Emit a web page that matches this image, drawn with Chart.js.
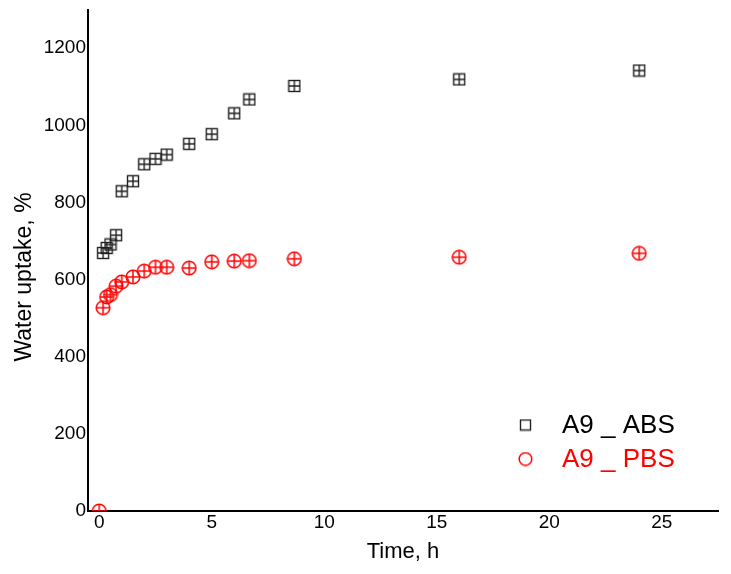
<!DOCTYPE html>
<html>
<head>
<meta charset="utf-8">
<script src="https://cdn.jsdelivr.net/npm/chart.js@4.4.0/dist/chart.umd.min.js"></script>
<style>
html,body{margin:0;padding:0;background:#fff;}
#wrap{position:relative;width:731px;height:574px;}
</style>
</head>
<body>
<div id="wrap"><canvas id="c" width="731" height="574"></canvas></div>
<script>
// Data
const absTime = [0.17, 0.33, 0.5, 0.75, 1, 1.5, 2, 2.5, 3, 4, 5, 6, 6.67, 8.67, 16, 24];
const absUptake = [669, 682, 691, 715, 829, 855, 899, 913, 924, 952, 977, 1031, 1067, 1102, 1119, 1142];
const pbsTime = [0, 0.17, 0.33, 0.5, 0.75, 1, 1.5, 2, 2.5, 3, 4, 5, 6, 6.67, 8.67, 16, 24];
const pbsUptake = [0, 527, 555, 561, 583, 594, 607, 622, 632, 632, 630, 646, 648, 649, 654, 658, 668];
const seriesLabels = ['A9 _ ABS', 'A9 _ PBS'];
const xTicks = [0, 5, 10, 15, 20, 25];
const yTicks = [0, 200, 400, 600, 800, 1000, 1200];
const xTitle = 'Time, h';
const yTitle = 'Water uptake, %';

function pairs(xs, ys){ return xs.map((x,i)=>({x:x, y:ys[i]})); }

function makeSquare(size, plus){
  const c = document.createElement('canvas');
  c.width = size; c.height = size;
  const g = c.getContext('2d');
  g.strokeStyle = '#222'; g.lineWidth = 1.4;
  g.strokeRect(1.5, 1.5, size-3, size-3);
  if (plus){
    g.beginPath();
    g.moveTo(size/2, 1.5); g.lineTo(size/2, size-1.5);
    g.moveTo(1.5, size/2); g.lineTo(size-1.5, size/2);
    g.stroke();
  }
  return c;
}
function makeCircle(size, plus){
  const c = document.createElement('canvas');
  c.width = size; c.height = size;
  const g = c.getContext('2d');
  g.strokeStyle = '#ff0000'; g.lineWidth = 1.5;
  const r = size/2 - 1.2;
  g.beginPath(); g.arc(size/2, size/2, r, 0, Math.PI*2); g.stroke();
  if (plus){
    g.beginPath();
    g.moveTo(size/2, size/2 - r); g.lineTo(size/2, size/2 + r);
    g.moveTo(size/2 - r, size/2); g.lineTo(size/2 + r, size/2);
    g.stroke();
  }
  return c;
}
const sqMarker = makeSquare(14, true);
const ciMarker = makeCircle(16, true);
const FAM = '"Liberation Sans", Arial, sans-serif';

const overlayPlugin = {
  id: 'overlay',
  afterDraw(chart){
    const ctx = chart.ctx;
    const items = [
      {label: seriesLabels[0], color: '#000', img: makeSquare(13, false), y: 425},
      {label: seriesLabels[1], color: '#ff0000', img: makeCircle(15, false), y: 459}
    ];
    ctx.save();
    ctx.font = '26px ' + FAM;
    ctx.textBaseline = 'middle';
    ctx.textAlign = 'left';
    items.forEach(it=>{
      ctx.drawImage(it.img, 525.5 - it.img.width/2, it.y - it.img.height/2);
      ctx.fillStyle = it.color;
      ctx.fillText(it.label, 562, it.y + 1);
    });
    // y-axis title
    ctx.translate(25, 277);
    ctx.rotate(-Math.PI/2);
    ctx.font = '23px ' + FAM;
    ctx.fillStyle = '#000';
    ctx.textAlign = 'center';
    ctx.fillText(yTitle, 0, 0);
    ctx.restore();
  }
};

const font = {family: FAM, size: 19};

new Chart(document.getElementById('c'), {
  type: 'scatter',
  data: {
    datasets: [
      {label: seriesLabels[0], data: pairs(absTime, absUptake), pointStyle: sqMarker, pointRadius: 6, borderColor:'#000', backgroundColor:'#000', clip: 0},
      {label: seriesLabels[1], data: pairs(pbsTime, pbsUptake), pointStyle: ciMarker, pointRadius: 8, borderColor:'#f00', backgroundColor:'#f00', clip: 0}
    ]
  },
  options: {
    responsive: false,
    animation: false,
    layout: {padding: {top: 8, right: 13, left: 0, bottom: 0}},
    plugins: {legend: {display: false}, tooltip: {enabled: false}},
    scales: {
      x: {
        type: 'linear', min: -0.5, max: 27.5,
        afterBuildTicks: s => { s.ticks = xTicks.map(v=>({value:v})); },
        afterFit: s => { s.height = 63; },
        grid: {display: true, drawOnChartArea: false, drawTicks: false, color: 'rgba(0,0,0,0)'},
        border: {display: true, color: '#000', width: 2},
        ticks: {color: '#000', font: font, padding: 0, maxRotation: 0, callback: v => String(v)},
        title: {display: true, text: xTitle, color: '#000', font: {family: FAM, size: 22}, padding: {top: 2, bottom: 9}}
      },
      y: {
        type: 'linear', min: 0, max: 1300,
        afterBuildTicks: s => { s.ticks = yTicks.map(v=>({value:v})); },
        afterFit: s => { s.width = 88; },
        grid: {display: true, drawOnChartArea: false, drawTicks: false, color: 'rgba(0,0,0,0)'},
        border: {display: true, color: '#000', width: 2},
        ticks: {color: '#000', font: {family: FAM, size: 19, lineHeight: 0.8}, padding: 2, callback: v => String(v)},
        title: {display: false}
      }
    }
  },
  plugins: [overlayPlugin]
});
</script>
</body>
</html>
